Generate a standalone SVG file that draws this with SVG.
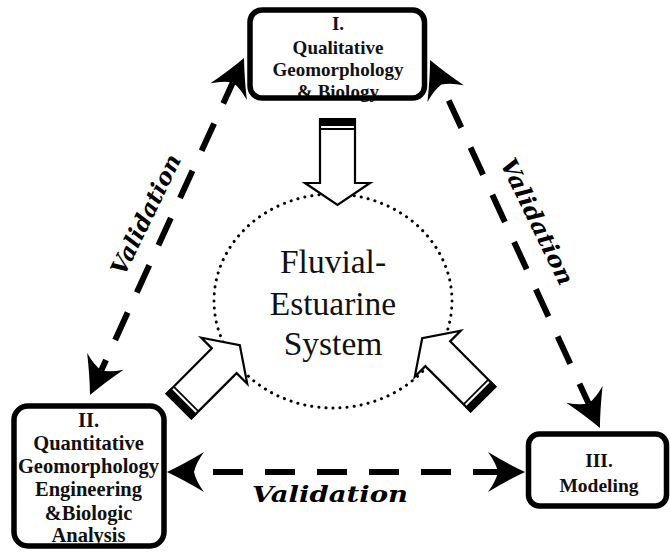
<svg xmlns="http://www.w3.org/2000/svg" width="670" height="553" viewBox="0 0 670 553">
<style>
.box{fill:#fff;stroke:none}
.boxs{fill:none;stroke:#000;stroke-width:5.5}
.bt{font-family:"Liberation Serif","Times New Roman",serif;font-weight:bold;text-anchor:middle;fill:#111}
.conn{fill:none;stroke:#000;stroke-width:6;stroke-dasharray:30 22}
.val{font-family:"DejaVu Serif","Liberation Serif",serif;font-weight:bold;font-style:italic;font-size:23px;text-anchor:middle;fill:#000}
.sys{font-family:"Liberation Serif","Times New Roman",serif;font-size:33.5px;text-anchor:middle;fill:#111}
.barrow{fill:#fff;stroke:#000;stroke-width:2.2;stroke-linejoin:miter}
</style>
<defs>
<marker id="ah" markerUnits="userSpaceOnUse" viewBox="-12 -22 42 44" refX="0" refY="0" markerWidth="42" markerHeight="44" orient="auto-start-reverse" overflow="visible">
<path d="M27,0 Q10,-8 -10,-20 Q-2,-9 0,0 Q-2,9 -10,20 Q10,8 27,0 Z" fill="#000"/>
</marker>
<g id="blk">
<path class="barrow" d="M-17.5,0 L17.5,0 L17.5,64 L32.5,64 L0,86 L-32.5,64 L-17.5,64 Z"/>
<rect x="-18.5" y="-1" width="37" height="8" fill="#000"/>
<line x1="-17.5" y1="10" x2="17.5" y2="10" stroke="#000" stroke-width="1.8"/>
</g>
</defs>

<g id="connectors">
<path class="conn" d="M194,472 L498,472" stroke-dashoffset="33" marker-start="url(#ah)" marker-end="url(#ah)"/>
<path class="conn" d="M232.8,82.5 L101.2,370.5" stroke-dashoffset="7" marker-start="url(#ah)" marker-end="url(#ah)"/>
<path class="conn" d="M441.4,84.5 L588.6,403.5" stroke-dashoffset="34.5" marker-start="url(#ah)" marker-end="url(#ah)"/>
<text class="val" x="330" y="502" textLength="156" lengthAdjust="spacingAndGlyphs">Validation</text>
<text class="val" transform="translate(153,218) rotate(-64)" textLength="131" lengthAdjust="spacingAndGlyphs">Validation</text>
<text class="val" transform="translate(530,225) rotate(64)" textLength="138" lengthAdjust="spacingAndGlyphs">Validation</text>
</g>

<g id="system">
<ellipse cx="333" cy="301" rx="119" ry="107" fill="none" stroke="#000" stroke-width="3" stroke-linecap="round" stroke-dasharray="0.1 7"/>
<text class="sys" x="333" y="273">Fluvial-</text>
<text class="sys" x="333" y="315">Estuarine</text>
<text class="sys" x="333" y="355">System</text>
</g>

<g id="arrow-top"><use href="#blk" transform="translate(337.5,119)"/></g>
<g id="arrow-left"><use href="#blk" transform="translate(179,406) rotate(-135)"/></g>
<g id="arrow-right"><use href="#blk" transform="translate(483,399) rotate(135)"/></g>

<g id="node1">
<rect class="box" x="250" y="10" width="174.5" height="88" rx="12"/>
<text class="bt" x="338" y="30" font-size="19">I.</text>
<text class="bt" x="338" y="54" font-size="19">Qualitative</text>
<text class="bt" x="338" y="76" font-size="19">Geomorphology</text>
<text class="bt" x="338" y="98" font-size="19">&amp; Biology</text>
<rect class="boxs" x="250" y="10" width="174.5" height="88" rx="12"/>
</g>

<g id="node2">
<rect class="box" x="14" y="406" width="150" height="140" rx="14"/>
<text class="bt" x="88.5" y="427" font-size="20.5">II.</text>
<text class="bt" x="88.5" y="450" font-size="20.5">Quantitative</text>
<text class="bt" x="88.5" y="473" font-size="20.5">Geomorphology</text>
<text class="bt" x="88.5" y="496" font-size="20.5">Engineering</text>
<text class="bt" x="88.5" y="520" font-size="20.5">&amp;Biologic</text>
<text class="bt" x="88.5" y="542" font-size="20.5">Analysis</text>
<rect class="boxs" x="14" y="406" width="150" height="140" rx="14"/>
</g>

<g id="node3">
<rect class="box" x="528.5" y="434" width="138" height="72" rx="11"/>
<text class="bt" x="599" y="467" font-size="19.5">III.</text>
<text class="bt" x="599" y="492" font-size="19.5">Modeling</text>
<rect class="boxs" x="528.5" y="434" width="138" height="72" rx="11"/>
</g>
</svg>
